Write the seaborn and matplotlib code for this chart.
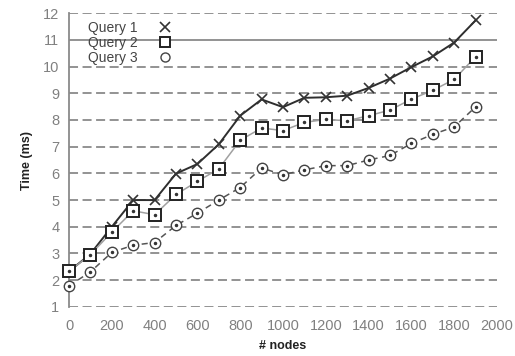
import numpy as np
import pandas as pd
import matplotlib
matplotlib.use("Agg")
import matplotlib.pyplot as plt
from matplotlib.lines import Line2D
import seaborn as sns

nodes = [0, 100, 200, 300, 400, 500, 600, 700, 800, 900,
         1000, 1100, 1200, 1300, 1400, 1500, 1600, 1700, 1800, 1900]
query1 = [2.33, 2.98, 4.0, 5.0, 5.0, 5.99, 6.35, 7.09, 8.16, 8.77,
          8.48, 8.83, 8.85, 8.91, 9.2, 9.55, 9.98, 10.38, 10.9, 11.73]
query2 = [2.33, 2.96, 3.8, 4.6, 4.45, 5.21, 5.7, 6.17, 7.24, 7.7,
          7.6, 7.91, 8.02, 7.97, 8.16, 8.37, 8.78, 9.11, 9.52, 10.37]
query3 = [1.79, 2.31, 3.04, 3.31, 3.41, 4.05, 4.51, 5.0, 5.47, 6.2,
          5.95, 6.13, 6.29, 6.29, 6.5, 6.67, 7.12, 7.46, 7.74, 8.49]
series_names = ["Query 1", "Query 2", "Query 3"]
x_ticks = list(range(0, 2001, 200))
y_ticks = list(range(1, 13))

df = pd.DataFrame({"nodes": nodes, "Query 1": query1, "Query 2": query2, "Query 3": query3})

sns.set_style("white")
plt.rcParams["font.family"] = ["Liberation Sans", "DejaVu Sans"]

fig = plt.figure(figsize=(5.15, 3.56), dpi=100)
ax = fig.add_axes([0.134, 0.138, 0.831, 0.825])

# horizontal dashed grid (the line at 11 shows solid in the original)
for y in y_ticks:
    if y == 11:
        ax.axhline(y, color="#8a8a8a", lw=1.3, zorder=0)
    else:
        ax.axhline(y, color="#8a8a8a", lw=1.3, ls=(0, (5, 2.5)), zorder=0)

styles = {
    "Query 1": dict(color="#2e2e2e", lw=1.4, ls="-", marker="x", ms=7.5, mew=1.2, mfc="none", mec="#333333"),
    "Query 2": dict(color="#a0a0a0", lw=1.1, ls="-", marker="s", ms=8.5, mew=1.4, mfc="white", mec="#222222"),
    "Query 3": dict(color="#555555", lw=1.1, ls=(0, (4, 3)), marker="o", ms=7.5, mew=1.0, mfc="white", mec="#444444"),
}

for name in series_names:
    st = styles[name]
    sns.lineplot(data=df, x="nodes", y=name, ax=ax, color=st["color"], lw=st["lw"],
                 linestyle=st["ls"], marker=st["marker"], markersize=st["ms"],
                 markeredgewidth=st["mew"], markerfacecolor=st["mfc"],
                 markeredgecolor=st["mec"], clip_on=False, zorder=3)
    if name != "Query 1":
        ax.plot(df["nodes"], df[name], ls="none", marker="o", ms=1.5,
                color="#333333", clip_on=False, zorder=4)

ax.set_xlim(0, 2000)
ax.set_ylim(1, 12)
ax.set_xticks(x_ticks)
ax.set_yticks(y_ticks)
ax.tick_params(axis="x", direction="in", length=4, color="#808080", width=1.2,
               labelcolor="#808080", labelsize=10.5, pad=9)
ax.tick_params(axis="y", length=0, labelcolor="#808080", labelsize=10.5, pad=7)

for s in ["top", "right", "bottom"]:
    ax.spines[s].set_visible(False)
ax.spines["left"].set_color("#8a8a8a")
ax.spines["left"].set_linewidth(1.3)

ax.set_xlabel("# nodes", fontsize=9, fontweight="bold", color="#222222", labelpad=5)
ax.set_ylabel("Time (ms)", fontsize=9, fontweight="bold", color="#222222", labelpad=7)

handles = []
for name in series_names:
    st = styles[name]
    handles.append(Line2D([], [], ls="none", marker=st["marker"], ms=st["ms"] - 1,
                          mew=st["mew"], mfc=st["mfc"], mec=st["mec"]))
leg = ax.legend(handles, series_names, loc="upper left", bbox_to_anchor=(0.015, 1.015),
                frameon=False, markerfirst=False, handlelength=1.5, handletextpad=1.2,
                labelspacing=0.05, fontsize=10)
for t in leg.get_texts():
    t.set_color("#444444")

fig.savefig("out.png", dpi=100)
